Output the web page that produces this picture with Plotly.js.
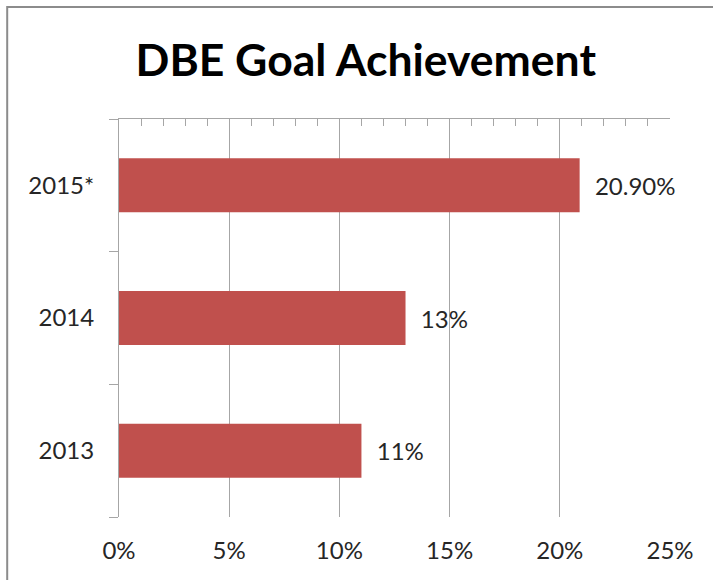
<!DOCTYPE html>
<html>
<head>
<meta charset="utf-8">
<script src="https://cdn.plot.ly/plotly-3.0.1.min.js"></script>
<style>html,body{margin:0;padding:0;background:#fff;}#chart{width:713px;height:580px;}</style>
</head>
<body>
<div id="chart"></div>
<script>
const categories = ['2013', '2014', '2015*'];
const values = [0.11, 0.13, 0.209];
const valueLabels = ['11%', '13%', '20.90%'];
const xTickValues = [0, 0.05, 0.10, 0.15, 0.20, 0.25];
const xTickLabels = ['0%', '5%', '10%', '15%', '20%', '25%'];

const FONT = 'Lato, "Open Sans", sans-serif';
const GRID = '#a6a6a6';

const traces = [
  {
    type: 'bar',
    orientation: 'h',
    x: values,
    y: categories,
    text: valueLabels,
    texttemplate: '\u00a0\u00a0%{text}',
    textposition: 'outside',
    cliponaxis: false,
    textfont: {family: FONT, size: 24, color: '#262626'},
    marker: {color: '#C0504D'},
    hoverinfo: 'skip',
    showlegend: false
  },
  {
    type: 'scatter',
    mode: 'markers',
    x: [values[0]],
    y: [categories[0]],
    xaxis: 'x2',
    marker: {opacity: 0},
    hoverinfo: 'skip',
    showlegend: false
  }
];

const layout = {
  width: 713,
  height: 580,
  margin: {l: 119, r: 43, t: 119, b: 63},
  paper_bgcolor: '#ffffff',
  plot_bgcolor: '#ffffff',
  bargap: 0.593,
  title: {
    text: '<b>DBE Goal Achievement</b>',
    font: {family: FONT, size: 44.5, color: '#000000'},
    x: 0.513, xanchor: 'center',
    y: 0.895, yanchor: 'middle'
  },
  xaxis: {
    range: [0, 0.25],
    tickvals: xTickValues,
    ticktext: xTickLabels,
    showgrid: true,
    gridcolor: GRID,
    gridwidth: 1,
    zeroline: false,
    showline: false,
    ticks: '',
    ticklabelstandoff: 17,
    tickfont: {family: FONT, size: 24, color: '#262626'},
    fixedrange: true
  },
  xaxis2: {
    overlaying: 'x',
    matches: 'x',
    side: 'top',
    range: [0, 0.25],
    showgrid: false,
    zeroline: false,
    showline: true,
    linecolor: GRID,
    linewidth: 1,
    showticklabels: false,
    ticks: '',
    minor: {dtick: 0.01, ticks: 'inside', ticklen: 7, tickcolor: GRID, tickwidth: 1, showgrid: false},
    fixedrange: true
  },
  yaxis: {
    type: 'category',
    categoryorder: 'array',
    categoryarray: categories,
    showgrid: false,
    zeroline: false,
    showline: true,
    linecolor: GRID,
    linewidth: 1,
    ticks: 'outside',
    tickson: 'boundaries',
    ticklen: 9,
    tickcolor: GRID,
    tickwidth: 1,
    ticklabelstandoff: 19,
    tickfont: {family: FONT, size: 24, color: '#262626'},
    fixedrange: true
  },
  shapes: [
    {
      type: 'rect', xref: 'paper', yref: 'paper',
      x0: -0.2029, x1: 1.2, y0: -0.3, y1: 1.2814,
      line: {color: '#8c8c8c', width: 2},
      fillcolor: 'rgba(0,0,0,0)',
      layer: 'below'
    }
  ]
};

Plotly.newPlot('chart', traces, layout, {displayModeBar: false, staticPlot: true});
</script>
</body>
</html>
